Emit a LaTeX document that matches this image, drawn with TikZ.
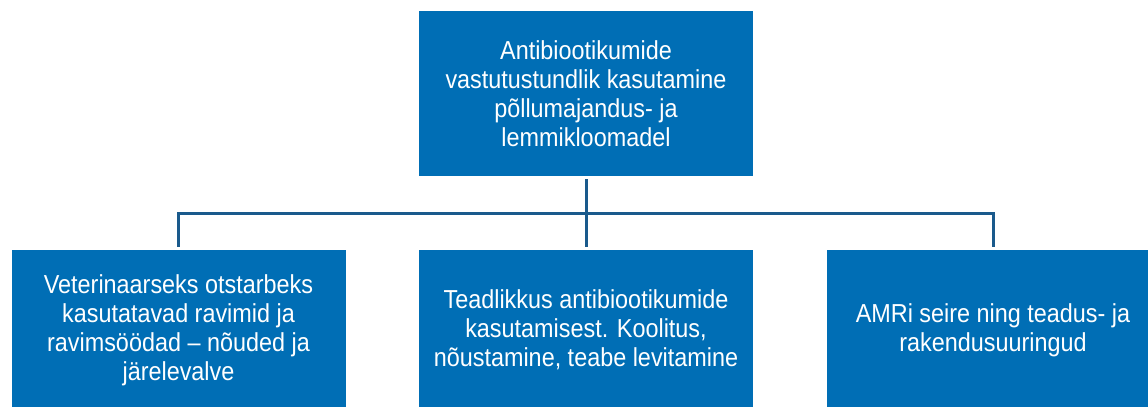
\documentclass[tikz,border=0pt]{standalone}
\usepackage{fontspec}
\setmainfont{Liberation Sans}[FakeStretch=0.9]
\usepackage{tikz}
\definecolor{boxblue}{RGB}{0,110,181}
\definecolor{lineblue}{RGB}{26,90,140}

\begin{document}
\begin{tikzpicture}[x=0.5pt,y=-0.5pt,
  topicbox/.style={fill=boxblue,text=white,align=center,inner sep=0pt,
    minimum width=167pt,font=\fontsize{13}{14.5}\selectfont},
  link/.style={lineblue,line width=1.5pt,shorten <=1.5pt,shorten >=1.5pt}]
  \useasboundingbox (0,0) rectangle (1148,407);
  % main topic
  \node[topicbox,minimum height=82.5pt] (top) at (586,93.5)
    {Antibiootikumide\\vastutustundlik kasutamine\\põllumajandus- ja\\lemmikloomadel};
  % sub topics
  \node[topicbox,minimum height=80pt] (vet) at (178.5,330)
    {Veterinaarseks otstarbeks\\kasutatavad ravimid ja\\ravimsöödad -- nõuded ja\\järelevalve};
  \node[topicbox,minimum height=80pt] (aware) at (586,330)
    {Teadlikkus antibiootikumide\\kasutamisest. Koolitus,\\nõustamine, teabe levitamine};
  \node[topicbox,minimum height=80pt,minimum width=166pt] (amr) at (993,330)
    {AMRi seire ning teadus- ja\\rakendusuuringud};
  % connectors
  \coordinate (bus) at (586,213);
  \draw[link] (top.south) -- (aware.north);
  \draw[link,shorten <=0pt] (bus) -| (vet.north);
  \draw[link,shorten <=0pt] (bus) -| (amr.north);
\end{tikzpicture}
\end{document}
